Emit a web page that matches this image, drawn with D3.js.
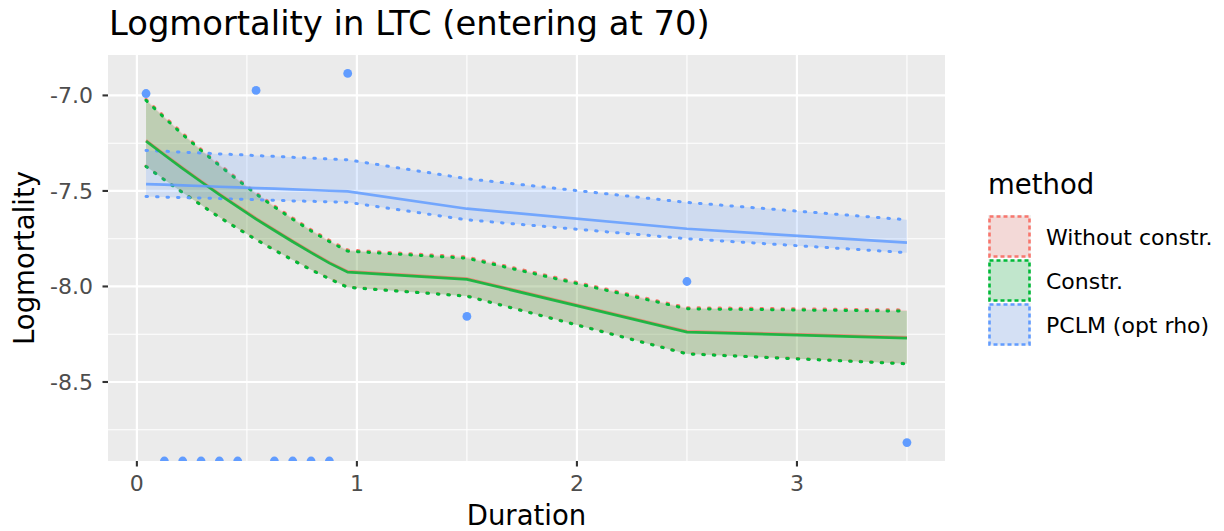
<!DOCTYPE html>
<html><head><meta charset="utf-8">
<script src="https://cdn.jsdelivr.net/npm/d3@7"></script>
<style>body{margin:0;background:#fff;} text{font-family:"DejaVu Sans",sans-serif;}</style>
</head><body><svg id="c" width="1224" height="531"></svg>
<script>
// ---------- data ----------
const duration = [0.0417,0.125,0.2083,0.2917,0.375,0.4583,0.5417,0.625,0.7083,0.7917,0.875,0.9583,1.5,2.5,3.5];
const observed = [-6.99,-Infinity,-Infinity,-Infinity,-Infinity,-Infinity,-6.974,-Infinity,-Infinity,-Infinity,-Infinity,-6.885,-8.157,-7.974,-8.817];

const methods = ["Without constr.","Constr.","PCLM (opt rho)"];

const fitWithout = [-7.235,-7.308,-7.379,-7.448,-7.515,-7.580,-7.643,-7.703,-7.762,-7.819,-7.874,-7.921,-7.959,-8.235,-8.266];
const upWithout  = [-7.020,-7.111,-7.199,-7.282,-7.361,-7.437,-7.510,-7.578,-7.642,-7.703,-7.759,-7.809,-7.846,-8.111,-8.123];
const lowWithout = [-7.370,-7.440,-7.507,-7.572,-7.636,-7.695,-7.753,-7.808,-7.860,-7.911,-7.958,-8.003,-8.049,-8.351,-8.403];

const fitConstr = [-7.239,-7.312,-7.383,-7.452,-7.519,-7.584,-7.647,-7.707,-7.766,-7.823,-7.878,-7.925,-7.963,-8.239,-8.270];
const upConstr  = [-7.026,-7.117,-7.205,-7.288,-7.367,-7.443,-7.516,-7.584,-7.648,-7.709,-7.765,-7.815,-7.852,-8.117,-8.129];
const lowConstr = [-7.372,-7.442,-7.509,-7.574,-7.638,-7.697,-7.755,-7.810,-7.862,-7.913,-7.960,-8.005,-8.051,-8.353,-8.405];

const fitPCLM = [-7.464,-7.467,-7.471,-7.474,-7.478,-7.481,-7.485,-7.488,-7.492,-7.495,-7.499,-7.502,-7.593,-7.698,-7.771];
const upPCLM  = [-7.288,-7.292,-7.297,-7.301,-7.306,-7.310,-7.315,-7.319,-7.324,-7.328,-7.333,-7.337,-7.436,-7.560,-7.651];
const lowPCLM = [-7.529,-7.532,-7.535,-7.537,-7.540,-7.543,-7.546,-7.549,-7.552,-7.554,-7.557,-7.559,-7.651,-7.750,-7.823];

const xTicks = [0,1,2,3];
const yTicks = [-7.0,-7.5,-8.0,-8.5];
const yTickLabels = ["-7.0","-7.5","-8.0","-8.5"];

// ---------- styling ----------
const colors = ["#F8766D","#00BA38","#619CFF"];
const P = {left:108, right:945, top:55, bottom:461};

const svg = d3.select("#c");

const series = [
  {name:methods[0], fit:fitWithout, up:upWithout, low:lowWithout, color:colors[0]},
  {name:methods[1], fit:fitConstr,  up:upConstr,  low:lowConstr,  color:colors[1]},
  {name:methods[2], fit:fitPCLM,    up:upPCLM,    low:lowPCLM,    color:colors[2]}
];

function expand(ext){const r=ext[1]-ext[0];return [ext[0]-0.05*r, ext[1]+0.05*r];}
const allY = observed.filter(isFinite).concat(...series.map(s=>s.up), ...series.map(s=>s.low));
const x = d3.scaleLinear().domain(expand(d3.extent(duration))).range([P.left,P.right]);
const y = d3.scaleLinear().domain(expand(d3.extent(allY))).range([P.bottom,P.top]);

// panel background
svg.append("rect").attr("x",P.left).attr("y",P.top).attr("width",P.right-P.left).attr("height",P.bottom-P.top).attr("fill","#EBEBEB");

// grid
const xMinor = [0.5,1.5,2.5,3.5], yMinor=[-7.25,-7.75,-8.25,-8.75];
const g = svg.append("g");
g.selectAll(".xm").data(xMinor).join("line").attr("x1",d=>x(d)).attr("x2",d=>x(d)).attr("y1",P.top).attr("y2",P.bottom).attr("stroke","#fff").attr("stroke-width",1.1);
g.selectAll(".ym").data(yMinor).join("line").attr("y1",d=>y(d)).attr("y2",d=>y(d)).attr("x1",P.left).attr("x2",P.right).attr("stroke","#fff").attr("stroke-width",1.1);
g.selectAll(".xM").data(xTicks).join("line").attr("x1",d=>x(d)).attr("x2",d=>x(d)).attr("y1",P.top).attr("y2",P.bottom).attr("stroke","#fff").attr("stroke-width",2.2);
g.selectAll(".yM").data(yTicks).join("line").attr("y1",d=>y(d)).attr("y2",d=>y(d)).attr("x1",P.left).attr("x2",P.right).attr("stroke","#fff").attr("stroke-width",2.2);

// clip
svg.append("clipPath").attr("id","pc").append("rect").attr("x",P.left).attr("y",P.top).attr("width",P.right-P.left).attr("height",P.bottom-P.top);
const plot = svg.append("g").attr("clip-path","url(#pc)");

const area = d3.area().x((d,i)=>x(duration[i])).y0(d=>y(d[0])).y1(d=>y(d[1]));
const line = d3.line().x((d,i)=>x(duration[i])).y(d=>y(d));
const dotted = "1.5 9";

series.forEach(s=>{
  plot.append("path").datum(s.low.map((v,i)=>[v,s.up[i]])).attr("d",area).attr("fill",s.color).attr("fill-opacity",0.2);
  [s.up,s.low].forEach(arr=>{
    plot.append("path").datum(arr).attr("d",line).attr("fill","none").attr("stroke",s.color)
      .attr("stroke-width",3).attr("stroke-dasharray",dotted).attr("stroke-linecap","round");
  });
});
series.forEach(s=>{
  plot.append("path").datum(s.fit).attr("d",line).attr("fill","none").attr("stroke",s.color)
    .attr("stroke-width",2.7).attr("stroke-opacity",0.85);
});

// observed points
plot.selectAll(".pt").data(observed).join("circle")
  .attr("cx",(d,i)=>x(duration[i]))
  .attr("cy",d=>isFinite(d)?y(d):P.bottom)
  .attr("r",4.4).attr("fill","#619CFF");

// axes ticks
const ax = svg.append("g");
ax.selectAll(".xt").data(xTicks).join("line").attr("x1",d=>x(d)).attr("x2",d=>x(d)).attr("y1",P.bottom).attr("y2",P.bottom+5.5).attr("stroke","#333").attr("stroke-width",2.1);
ax.selectAll(".yt").data(yTicks).join("line").attr("y1",d=>y(d)).attr("y2",d=>y(d)).attr("x1",P.left-5.5).attr("x2",P.left).attr("stroke","#333").attr("stroke-width",2.1);
ax.selectAll(".xl").data(xTicks).join("text").attr("x",d=>x(d)).attr("y",P.bottom+30).attr("text-anchor","middle").attr("font-size",22).attr("fill","#4D4D4D").text(d=>d);
ax.selectAll(".yl").data(yTicks).join("text").attr("x",P.left-15).attr("y",d=>y(d)+8).attr("text-anchor","end").attr("font-size",22).attr("fill","#4D4D4D").text((d,i)=>yTickLabels[i]);

// titles
svg.append("text").attr("x",(P.left+P.right)/2).attr("y",525).attr("text-anchor","middle").attr("font-size",27.5).attr("fill","#000").text("Duration");
svg.append("text").attr("transform",`translate(34,${(P.top+P.bottom)/2}) rotate(-90)`).attr("text-anchor","middle").attr("font-size",27.5).attr("fill","#000").text("Logmortality");
svg.append("text").attr("x",109).attr("y",35).attr("font-size",33.8).attr("fill","#000").text("Logmortality in LTC (entering at 70)");

// legend
const lg = svg.append("g");
lg.append("text").attr("x",988).attr("y",194).attr("font-size",27.5).attr("fill","#000").text("method");
series.forEach((s,i)=>{
  const ky = 215 + i*44;
  lg.append("rect").attr("x",988).attr("y",ky).attr("width",43).attr("height",43).attr("fill","#F2F2F2");
  lg.append("rect").attr("x",989.5).attr("y",ky+1.5).attr("width",40).attr("height",40).attr("fill",s.color).attr("fill-opacity",0.2)
    .attr("stroke",s.color).attr("stroke-width",2.6).attr("stroke-dasharray","4 3");
  lg.append("text").attr("x",1046).attr("y",ky+21.5+8).attr("font-size",22).attr("fill","#000").text(s.name);
});
</script></body></html>
